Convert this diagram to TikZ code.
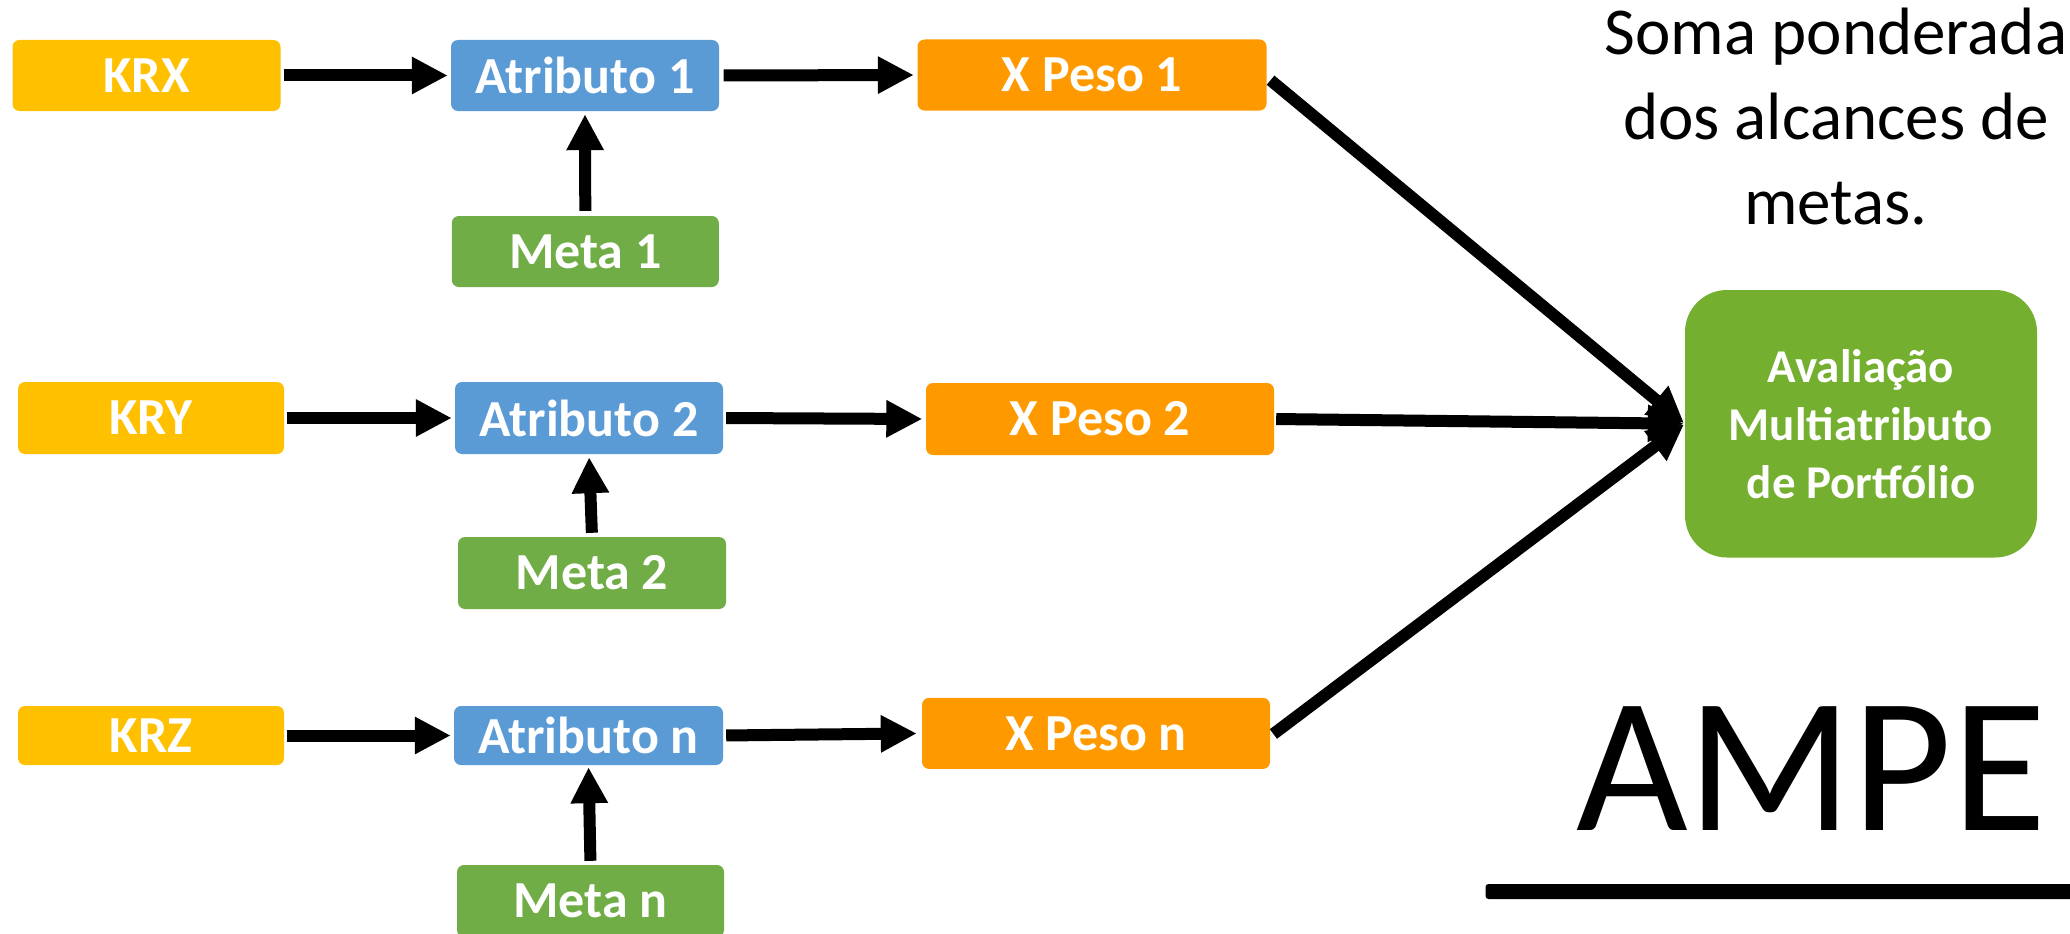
\documentclass[tikz,border=0pt]{standalone}
\usepackage{fontspec}
\setmainfont{Carlito}
\usetikzlibrary{arrows.meta}
\definecolor{cyel}{HTML}{FFC000}
\definecolor{cblue}{HTML}{5B9BD5}
\definecolor{corange}{HTML}{FF9900}
\definecolor{cgreen}{HTML}{70AD47}
\definecolor{cbig}{HTML}{74AF30}
\begin{document}
\begin{tikzpicture}[x=1pt,y=-1pt,
 box/.style={rectangle, rounded corners=7pt, inner sep=0pt, text=white, font=\fontsize{52}{62}\selectfont\bfseries, minimum height=71pt},
 krbox/.style={box, fill=cyel, minimum width=268pt},
 atbox/.style={box, fill=cblue, minimum width=268pt},
 pesobox/.style={box, fill=corange, minimum width=349pt},
 metabox/.style={box, fill=cgreen, minimum width=267pt},
 bigbox/.style={rectangle, rounded corners=42pt, inner sep=0pt, fill=cbig, text=white, align=center, font=\fontsize{47}{58}\selectfont\bfseries, minimum width=352pt, minimum height=267.5pt},
 conn/.style={line width=12pt, -{Triangle[length=36pt,width=35pt]}},
 note/.style={inner sep=0pt, anchor=base, font=\fontsize{67}{84}\selectfont},
]
\useasboundingbox (0,0) rectangle (2070,934);
\fill[white] (0,0) rectangle (2070,934);

% row 1
\node[krbox] (krx) at (146.5,75.5) {KRX};
\node[atbox] (at1) at (585,75.5) {Atributo 1};
\node[pesobox] (p1) at (1092,75) {X Peso 1};
\node[metabox] (m1) at (585.3,251.5) {Meta 1};
% row 2
\node[krbox, minimum width=266pt, minimum height=72pt] (kry) at (151,418) {KRY};
\node[atbox, minimum height=72pt] (at2) at (589,418) {Atributo 2};
\node[pesobox, minimum width=348pt, minimum height=72pt] (p2) at (1100,419) {X Peso 2};
\node[metabox, minimum width=268pt, minimum height=72pt] (m2) at (592,573) {Meta 2};
% row 3
\node[krbox, minimum width=266pt, minimum height=59pt] (krz) at (151,735.5) {KRZ};
\node[atbox, minimum width=269pt, minimum height=59pt] (atn) at (588.5,735.5) {Atributo n};
\node[pesobox, minimum width=348pt] (pn) at (1096,733.4) {X Peso n};
\node[metabox, minimum height=72pt] (mn) at (590.5,901) {Meta n};

% big box
\node[bigbox] (big) at (1861,423.75) {Avaliação\\Multiatributo\\de Portfólio};

% connectors
\draw[conn, shorten <=3pt, shorten >=3pt] (krx.east) -- (at1.west);
\draw[conn, shorten <=4.5pt, shorten >=3.5pt] (at1.east) -- (p1.west);
\draw[conn, shorten <=5pt, shorten >=3pt] (m1.north) -- (at1.south);

\draw[conn, shorten <=3pt, shorten >=3pt] (kry.east) -- (at2.west);
\draw[conn, shorten <=3pt, shorten >=3.5pt] (at2.east) -- (p2.west);
\draw[conn, shorten <=4pt, shorten >=3pt] (m2.north) -- (at2.south);

\draw[conn, shorten <=3pt, shorten >=3pt] (krz.east) -- (atn.west);
\draw[conn, shorten <=3pt, shorten >=5pt] (atn.east) -- (pn.west);
\draw[conn, shorten <=4pt, shorten >=2pt] (mn.north) -- (atn.south);

\draw[conn, shorten <=5pt, shorten >=1pt] ([yshift=-2pt]p1.east) -- (big.west);
\draw[conn, shorten <=2pt, shorten >=1pt] (p2.east) -- (big.west);
\draw[conn, shorten <=4pt, shorten >=1pt] ([yshift=-3pt]pn.east) -- (big.west);

% note text
\node[note] (t1) at (1836,55) {Soma ponderada};
\node[note] (t2) at (1836,139) {dos alcances de};
\node[note] (t3) at (1836,224) {metas.};

% AMPE
\node[inner sep=0pt, anchor=base west, font=\fontsize{193}{230}\selectfont] (ampe) at (1576,830) {AMPE};
\fill[rounded corners=3pt] (1485.5,884) rectangle (2085,899);
\end{tikzpicture}
\end{document}
